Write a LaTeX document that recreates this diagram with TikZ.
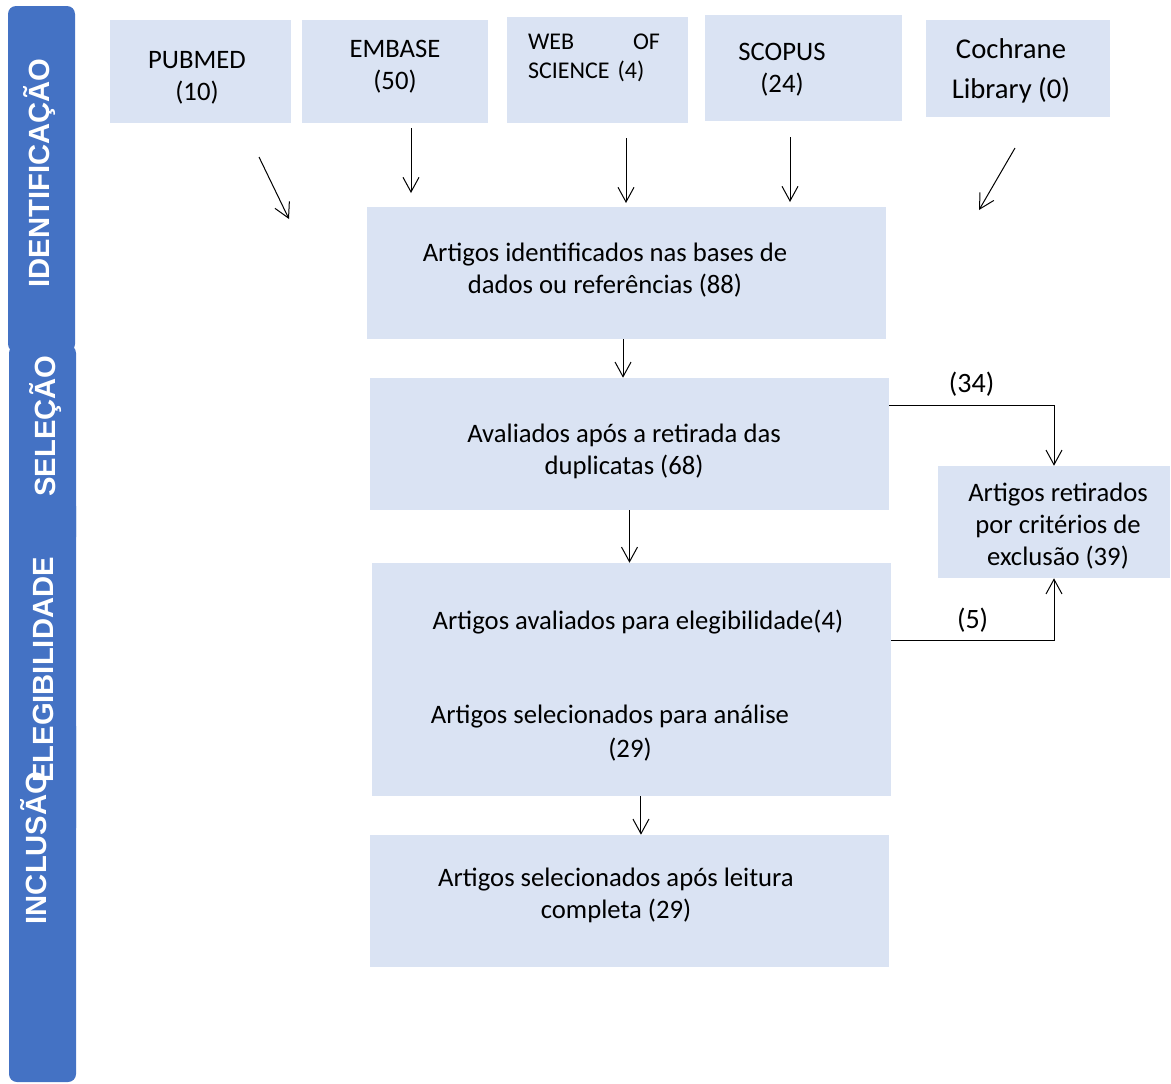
\documentclass[tikz,border=0pt]{standalone}
\usepackage{fontspec}
\setmainfont{Carlito}
\newfontfamily\sidefont{Liberation Sans}
\usetikzlibrary{arrows.meta, positioning, calc}

\definecolor{boxblue}{RGB}{218,227,243}
\definecolor{sideblue}{RGB}{68,114,196}

\begin{document}
\begin{tikzpicture}[
    x=0.75pt, y=-0.75pt,
    font=\fontsize{20}{24}\selectfont,
    box/.style={rectangle, fill=boxblue, draw=none, inner sep=0pt},
    txt/.style={align=center, inner sep=0pt},
    side/.style={rotate=90, text=white, inner sep=0pt,
      font=\sidefont\bfseries\fontsize{21.9}{24}\selectfont},
    sidebar/.style={fill=sideblue, rounded corners=6pt},
    arrow/.style={-{Straight Barb[length=11pt, width=12pt]}, line width=0.75pt},
  ]
  \useasboundingbox (0,0) rectangle (1171,1083);

  % left column of stages
  \fill[sidebar] (8,6) rectangle (75,352);
  \fill[sidebar] (9,345) rectangle (76,545);
  \fill[sidebar] (9,498) rectangle (76,836);
  \fill[sidebar] (9,718) rectangle (76,1082);
  \node[side] (s-ident) at (40,173) {IDENTIFICAÇÃO};
  \node[side] (s-sel)   at (46,426) {SELEÇÃO};
  \node[side] (s-eleg)  at (43,670) {ELEGIBILIDADE};
  \node[side] (s-incl)  at (34,848) {INCLUSÃO};

  % databases
  \node[box, minimum width=135.75pt, minimum height=77.25pt] (pubmed)   at (200.5,71.5) {};
  \node[box, minimum width=139.5pt,  minimum height=77.25pt] (embase)   at (395,71.5)   {};
  \node[box, minimum width=135.75pt, minimum height=79.5pt]  (wos)      at (597.5,70)   {};
  \node[box, minimum width=147.75pt, minimum height=79.5pt]  (scopus)   at (803.5,68)   {};
  \node[box, minimum width=138pt,    minimum height=72.75pt] (cochrane) at (1018,68.5)  {};

  \node[txt] (pubmed-t) at (197,78) {PUBMED\\(10)};
  \node[txt] (embase-t) at (395,67) {EMBASE\\(50)};
  \node[txt, text width=99pt, align=left, font=\fontsize{18}{21.75}\selectfont]
    (wos-t) at (594,57.5) {WEB\hfill OF\\SCIENCE (4)};
  \node[txt] (scopus-t) at (782,70) {SCOPUS\\(24)};
  \node[txt, font=\fontsize{21.5}{30}\selectfont] (cochrane-t) at (1011,71) {Cochrane\\Library (0)};

  % main flow
  \node[box, minimum width=389.25pt, minimum height=99pt]     (ident) at (626.5,273) {};
  \node[box, minimum width=389.25pt, minimum height=99pt]     (aval)  at (629.5,444) {};
  \node[box, minimum width=389.25pt, minimum height=174.75pt] (eleg)  at (631.5,679.5) {};
  \node[box, minimum width=389.25pt, minimum height=99pt]     (final) at (629.5,901) {};
  \node[box, minimum width=174pt,    minimum height=84pt]     (excl)  at (1054,522) {};

  \node[txt] (ident-t) at (605,270) {Artigos identificados nas bases de\\dados ou referências (88)};
  \node[txt] (aval-t)  at (624,451) {Avaliados após a retirada das\\duplicatas (68)};
  \node[txt] (eleg-a)  at (638,622) {Artigos avaliados para elegibilidade(4)};
  \node[txt, font=\fontsize{20}{25.5}\selectfont] (eleg-b) at (610,733)
    {Artigos selecionados para análise\\\hspace*{30pt}(29)};
  \node[txt] (final-t) at (616,895) {Artigos selecionados após leitura\\completa (29)};
  \node[txt] (excl-t)  at (1058,526) {Artigos retirados\\por critérios de\\exclusão (39)};

  % loose arrows under the databases
  \coordinate (pubmed-a)   at (259,157);
  \coordinate (pubmed-b)   at (289,219);
  \coordinate (embase-a)   at (411,128);
  \coordinate (embase-b)   at (411,193);
  \coordinate (wos-a)      at (626,138);
  \coordinate (wos-b)      at (626,203);
  \coordinate (scopus-a)   at (790,137);
  \coordinate (scopus-b)   at (790,202);
  \coordinate (cochrane-a) at (1015,148);
  \coordinate (cochrane-b) at (979,210);

  \draw[arrow] (pubmed-a) -- (pubmed-b);
  \draw[arrow] (embase-a) -- (embase-b);
  \draw[arrow] (wos-a) -- (wos-b);
  \draw[arrow] (scopus-a) -- (scopus-b);
  \draw[arrow] (cochrane-a) -- (cochrane-b);

  \draw[arrow] ([xshift=-2.6pt]ident.south) -- ([xshift=-2.6pt]ident.south |- aval.north);
  \draw[arrow] (aval.south) -- (aval.south |- eleg.north);
  \draw[arrow] ([xshift=7.1pt]eleg.south) -- ([xshift=7.1pt]eleg.south |- final.north);

  \draw[arrow] ([yshift=29.25pt]aval.east) -| (excl.north)
    node[pos=0.25, above=3pt, font=\fontsize{21}{24}\selectfont] {(34)};
  \draw[arrow] ([yshift=28.9pt]eleg.east) -| (excl.south)
    node[pos=0.25, above=3pt, font=\fontsize{21}{24}\selectfont] {(5)};
\end{tikzpicture}
\end{document}
